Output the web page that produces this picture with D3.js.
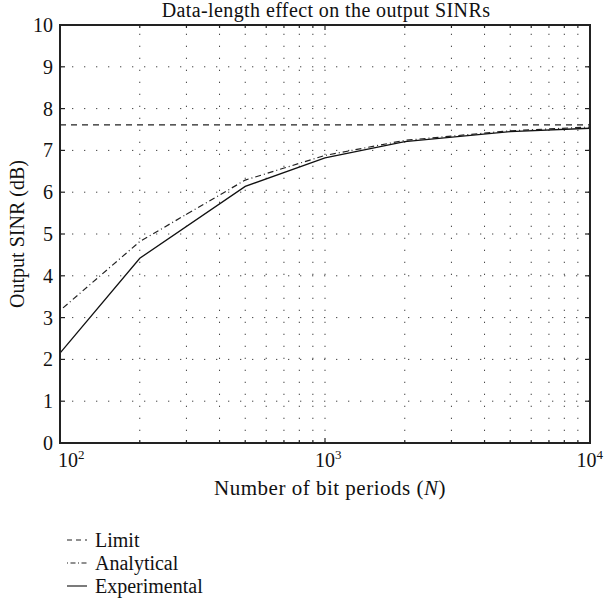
<!DOCTYPE html>
<html>
<head>
<meta charset="utf-8">
<script src="https://cdn.jsdelivr.net/npm/d3@7"></script>
<style>
  html, body { margin: 0; padding: 0; background: #fff; }
  svg text { font-family: "Liberation Serif", "DejaVu Serif", serif; fill: #111; }
</style>
</head>
<body>
<svg id="chart" width="605" height="605"></svg>
<script>
const xValues = [100, 200, 500, 1000, 2000, 5000, 10000];
const analytical = [3.17, 4.82, 6.29, 6.88, 7.24, 7.47, 7.56];
const experimental = [2.15, 4.42, 6.14, 6.82, 7.21, 7.45, 7.53];
const limitValue = 7.61;
const yTicks = [0, 1, 2, 3, 4, 5, 6, 7, 8, 9, 10];
const xMajor = [100, 1000, 10000];
const xMajorExp = ["2", "3", "4"];
const xMinor = [200, 300, 400, 500, 600, 700, 800, 900, 2000, 3000, 4000, 5000, 6000, 7000, 8000, 9000];
const legendItems = [
  { label: "Limit", dash: "5,4" },
  { label: "Analytical", dash: "1,2.5,5,2.5" },
  { label: "Experimental", dash: null }
];

const svg = d3.select("#chart");
const L = 60, R = 590, T = 25, B = 443;
const x = d3.scaleLog().domain([100, 10000]).range([L, R]);
const y = d3.scaleLinear().domain([0, 10]).range([B, T]);

// grid
const grid = svg.append("g").attr("stroke", "#444").attr("stroke-width", 1)
  .attr("stroke-dasharray", "1.3,10.7");
grid.selectAll("line.h").data(yTicks.filter(d => d > 0 && d < 10)).enter().append("line")
  .attr("x1", L).attr("x2", R).attr("y1", d => y(d)).attr("y2", d => y(d));
grid.selectAll("line.v").data(xMinor.concat([1000])).enter().append("line")
  .attr("x1", d => x(d)).attr("x2", d => x(d)).attr("y1", B).attr("y2", T);

// ticks inward
const ticks = svg.append("g").attr("stroke", "#222").attr("stroke-width", 1.2);
yTicks.forEach(v => {
  ticks.append("line").attr("x1", L).attr("x2", L + 5).attr("y1", y(v)).attr("y2", y(v));
  ticks.append("line").attr("x1", R).attr("x2", R - 5).attr("y1", y(v)).attr("y2", y(v));
});
xMajor.concat(xMinor).forEach(v => {
  const len = xMajor.includes(v) ? 5 : 3;
  ticks.append("line").attr("x1", x(v)).attr("x2", x(v)).attr("y1", B).attr("y2", B - len);
  ticks.append("line").attr("x1", x(v)).attr("x2", x(v)).attr("y1", T).attr("y2", T + len);
});

// lines
const line = d3.line().x((d, i) => x(xValues[i])).y(d => y(d));
svg.append("path").datum(analytical).attr("d", line)
  .attr("fill", "none").attr("stroke", "#222").attr("stroke-width", 1.2)
  .attr("stroke-dasharray", "1,3,6,3");
svg.append("path").datum(experimental).attr("d", line)
  .attr("fill", "none").attr("stroke", "#111").attr("stroke-width", 1.3);
svg.append("line").attr("x1", L).attr("x2", R).attr("y1", y(limitValue)).attr("y2", y(limitValue))
  .attr("stroke", "#222").attr("stroke-width", 1.2).attr("stroke-dasharray", "6,5");

// frame
svg.append("rect").attr("x", L).attr("y", T).attr("width", R - L).attr("height", B - T)
  .attr("fill", "none").attr("stroke", "#222").attr("stroke-width", 2);

// y tick labels
svg.append("g").selectAll("text").data(yTicks).enter().append("text")
  .attr("x", 53).attr("y", d => y(d)).attr("dy", "0.35em")
  .attr("text-anchor", "end").attr("font-size", 20).text(d => d);

// x tick labels
xMajor.forEach((v, i) => {
  const t = svg.append("text").attr("y", 467)
    .attr("text-anchor", "start").attr("font-size", 20);
  t.append("tspan").text("10");
  t.append("tspan").attr("dy", -8).attr("font-size", 13).text(xMajorExp[i]);
  const w = t.node().getComputedTextLength();
  t.attr("x", Math.min(Math.max(58, x(v) - 10), 603 - w));
});

// title
svg.append("text").attr("x", 326).attr("y", 17).attr("text-anchor", "middle")
  .attr("font-size", 20).attr("letter-spacing", 0.4).text("Data-length effect on the output SINRs");

// x label
const xl = svg.append("text").attr("x", 330).attr("y", 495).attr("text-anchor", "middle")
  .attr("font-size", 21).attr("letter-spacing", 0.5);
xl.append("tspan").text("Number of bit periods (");
xl.append("tspan").attr("font-style", "italic").text("N");
xl.append("tspan").text(")");

// y label
svg.append("text").attr("transform", `translate(17,${(T + B) / 2}) rotate(-90)`)
  .attr("dy", "0.35em").attr("text-anchor", "middle").attr("font-size", 20).text("Output SINR (dB)");

// legend
const lg = svg.append("g");
legendItems.forEach((d, i) => {
  const cy = 540 + i * 23;
  const ln = lg.append("line").attr("x1", 67).attr("x2", 87).attr("y1", cy).attr("y2", cy)
    .attr("stroke", "#222").attr("stroke-width", 1.2);
  if (d.dash) ln.attr("stroke-dasharray", d.dash);
  lg.append("text").attr("x", 95).attr("y", cy).attr("dy", "0.35em")
    .attr("font-size", 20).text(d.label);
});
</script>
</body>
</html>
